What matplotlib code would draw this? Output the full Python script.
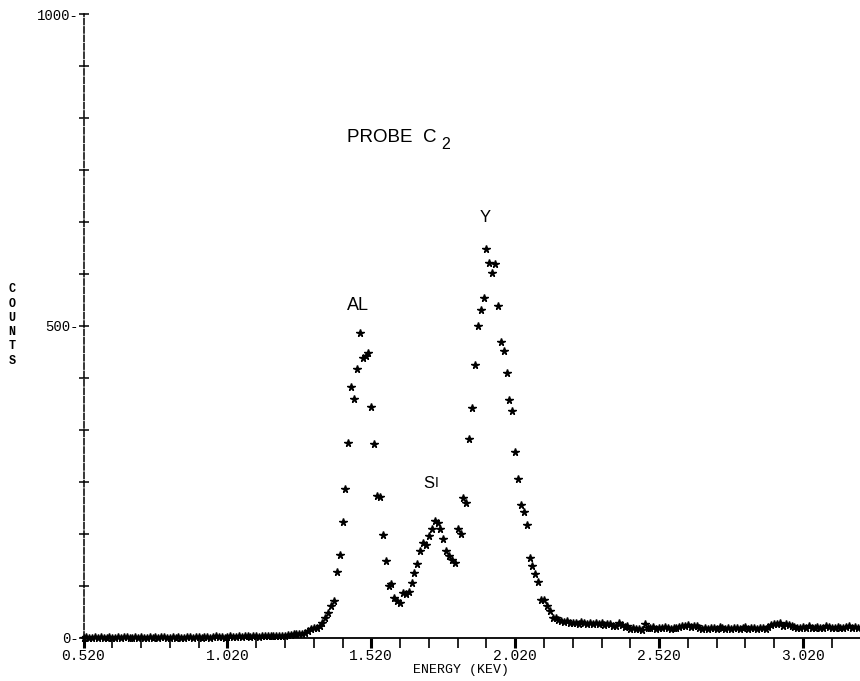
import numpy as np
import matplotlib
matplotlib.use("Agg")
import matplotlib.pyplot as plt

# spectrum of probe C2, 10 eV per channel starting at 0.52 keV
first_channel_kev = 0.52
kev_per_channel = 0.01

counts = [
    # 0.52 - 1.14 keV, flat background
    0, 1, 0, 0, 1, 0, 1, 0, 0, 1,
    0, 0, 1, 0, 1, 1, 0, 0, 1, 0,
    1, 0, 0, 1, 0, 1, 0, 1, 1, 0,
    0, 1, 0, 1, 0, 0, 1, 1, 0, 1,
    1, 0, 1, 1, 0, 1, 2, 1, 1, 0,
    1, 2, 1, 1, 2, 1, 2, 2, 1, 2,
    2, 1, 2,
    # onset of the Al line
    2, 3, 2, 3, 2, 3, 2,
    3, 4, 4, 5, 5, 5, 6, 8, 10, 13,
    15, 15, 18, 24, 32, 40, 50, 58,
    # Al K, Si K and Y L peaks
    105, 132, 185, 238, 312, 401, 383, 430, 489, 448,
    451, 456, 369, 310, 227, 225, 164, 122, 83, 86,
    63, 59, 56, 71, 70, 73, 88, 103, 118, 138,
    151, 148, 163, 174, 187, 183, 174, 158, 139, 131,
    125, 119, 174, 166, 223, 216, 319, 368, 437, 500,
    526, 544, 623, 601, 584, 599, 532, 474, 460, 424,
    381, 364, 298, 255, 212, 201, 181, 127, 114, 102,
    89, 60, 60, 51, 43, 31, 31, 28,
    # high energy tail
    27, 25, 26, 24,
    23, 24, 22, 25, 23, 21, 24,
    22, 23, 21, 24, 20, 22, 21,
    19, 18, 24, 20, 17, 18,
    14, 15, 13, 14, 12,
    22,
    16, 15, 17, 14, 16, 15, 17, 16, 14, 15, 16, 17,
    19, 18, 20, 17, 19, 18,
    16, 14, 15, 13, 16, 15, 14, 17, 15, 14, 16, 13,
    15, 16, 14, 15, 17, 14, 16, 15, 13, 16, 15, 14,
    17, 20, 22, 21, 23, 19, 21, 20, 18,
    17, 16, 15, 17, 16, 18, 15, 16, 17, 15, 16, 18,
    17, 15, 16, 17, 16, 15, 17, 18, 16, 17, 16,
]

energy = first_channel_kev + kev_per_channel * np.arange(len(counts))

x_major = [0.52, 1.02, 1.52, 2.02, 2.52, 3.02]
x_labels = ["0.520", "1.020", "1.520", "2.020", "2.520", "3.020"]
x_minor = np.round(np.arange(0.62, 3.13, 0.1), 2)

y_major = [0, 500, 1000]
y_labels = ["0-", "500-", "1000-"]
y_minor = np.arange(1, 12) * 1000.0 / 12

mono = "Liberation Mono"
sans = "Liberation Sans"

fig = plt.figure(figsize=(8.6, 6.81), dpi=100)
ax = fig.add_axes([83.5 / 860, 43.5 / 681, 776.5 / 860, 623.5 / 681])
ax.set_xlim(0.52, 3.218)
ax.set_ylim(0, 1000)

ax.plot(energy, counts, linestyle="none", marker="*", markersize=5.5,
        color="black", clip_on=False)

# printer style frame: solid energy axis, dashed counts axis
for side in ["top", "right"]:
    ax.spines[side].set_visible(False)
ax.spines["bottom"].set_linewidth(1.3)
ax.spines["left"].set_linewidth(1.1)
ax.spines["left"].set_linestyle((0, (4, 1.5)))

ax.set_xticks(x_major)
ax.set_xticklabels(x_labels, family=mono, fontsize=10.5)
ax.set_xticks(x_minor, minor=True)
ax.tick_params(axis="x", which="major", direction="out", length=7, width=2.2, pad=1)
ax.tick_params(axis="x", which="minor", direction="out", length=7, width=1.2)

ax.set_yticks(y_major)
ax.set_yticklabels(y_labels, family=mono, fontsize=10)
ax.set_yticks(y_minor, minor=True)
ax.tick_params(axis="y", which="both", direction="inout", length=7, width=1.1, pad=0)

fig.text(12 / 860, 1 - 325 / 681, "C\nO\nU\nN\nT\nS", family=mono,
         fontsize=8.5, fontweight="bold", ha="center", va="center", linespacing=1.25)
fig.text(461 / 860, 1 - 670 / 681, "ENERGY (KEV)", family=mono,
         fontsize=9.5, ha="center", va="center")

# sample name and line labels
ax.text(1.4356, 795, "PROBE  C", family=sans, fontsize=13.5, va="baseline")
ax.text(1.7620, 783, "2", family=sans, fontsize=11.5, va="baseline")
ax.text(1.4356, 525, "AL", family=sans, fontsize=13, va="baseline")
ax.text(1.6996, 240, "S", family=sans, fontsize=12, va="baseline")
ax.text(1.7400, 241, "I", family=sans, fontsize=10, va="baseline")
ax.text(1.8977, 666, "Y", family=sans, fontsize=12, va="baseline")

fig.savefig("out.png", dpi=100)
